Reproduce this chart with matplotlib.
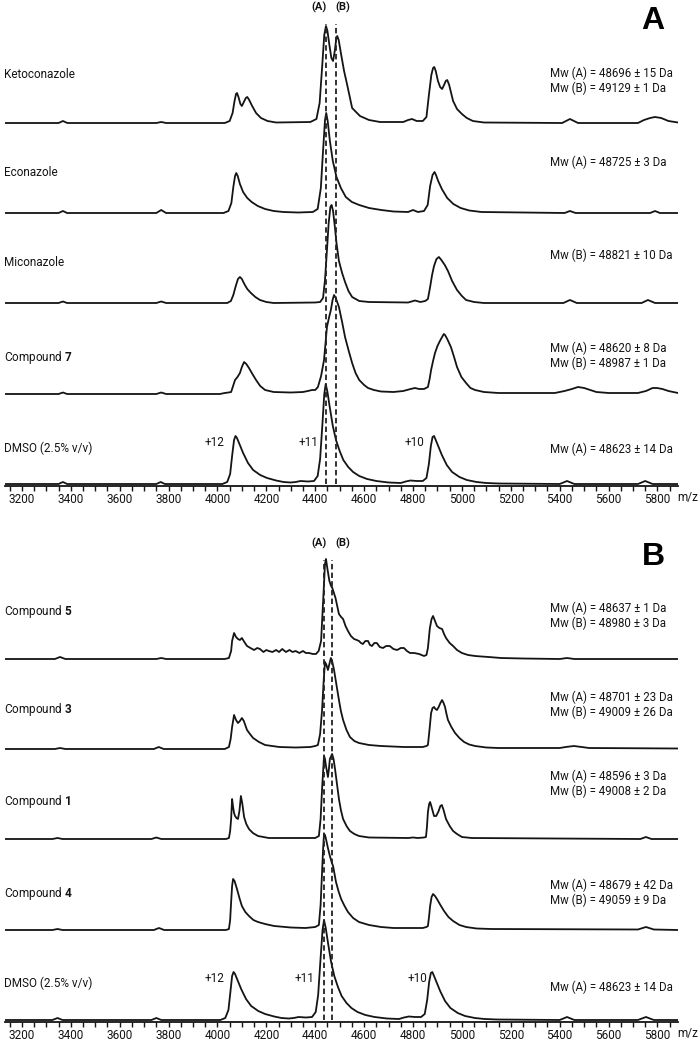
import numpy as np
import matplotlib
matplotlib.use("Agg")
import matplotlib.pyplot as plt
from matplotlib import font_manager
from matplotlib.ticker import MultipleLocator

# ---- spectra: (m/z, intensity) vertices ----
keto = [(3131, 0), (3350, 0), (3368, 2), (3386, 0), (3750, 0), (3770, 1), (3790, 0),
        (4030, 0), (4050, 2), (4062, 10), (4070, 22), (4076, 29), (4080, 30), (4086, 26), (4094, 19),
        (4100, 17), (4108, 21), (4116, 25), (4122, 26), (4130, 23), (4142, 17), (4158, 10), (4178, 5),
        (4205, 2), (4240, 0.5),
        (4380, 1), (4405, 4), (4418, 20), (4428, 55), (4437, 88), (4444, 97), (4450, 92), (4458, 78),
        (4466, 65), (4473, 62), (4480, 72), (4486, 84), (4490, 87), (4496, 83), (4505, 70), (4518, 52),
        (4530, 39), (4551, 15), (4583, 7), (4620, 3), (4665, 1),
        (4760, 1), (4780, 3), (4796, 4), (4815, 2), (4840, 2), (4855, 6), (4865, 28), (4875, 48),
        (4882, 55), (4887, 56), (4893, 52), (4902, 42), (4911, 36), (4919, 34), (4927, 38), (4934, 42),
        (4940, 43), (4948, 38), (4957, 29), (4964, 22), (4980, 14), (5000, 9), (5020, 5), (5045, 2),
        (5090, 0.5),
        (5410, 0), (5442, 4), (5475, 0), (5720, 0), (5745, 3), (5770, 5), (5790, 6), (5815, 5),
        (5845, 2), (5884, 0.5)]

econ = [(3131, 0), (3350, 0), (3368, 2), (3385, 0), (3750, 0), (3770, 3), (3790, 0),
        (4025, 0), (4045, 2), (4057, 10), (4065, 26), (4072, 37), (4077, 40), (4083, 37), (4092, 29),
        (4105, 21), (4122, 15), (4140, 11), (4165, 7), (4195, 4), (4230, 2), (4270, 1), (4330, 0.5),
        (4390, 1), (4410, 4), (4423, 25), (4432, 62), (4440, 93), (4445, 100), (4451, 92), (4460, 72),
        (4472, 52), (4487, 36), (4505, 25), (4525, 16), (4550, 11), (4580, 8), (4620, 5), (4670, 3),
        (4720, 1.5),
        (4780, 1), (4800, 3), (4820, 1), (4845, 2), (4860, 8), (4870, 27), (4880, 38), (4888, 41),
        (4894, 38), (4903, 32), (4918, 24), (4940, 15), (4965, 9), (4995, 5), (5030, 2.5), (5080, 1),
        (5420, 0), (5442, 2), (5465, 0), (5770, 0), (5790, 2), (5810, 0), (5884, 0)]

micon = [(3131, 0), (3350, 0), (3368, 1.5), (3385, 0), (3750, 0), (3770, 1.5), (3790, 0),
         (4040, 0), (4055, 2), (4065, 8), (4075, 17), (4084, 24), (4092, 26), (4100, 24), (4110, 19),
         (4122, 14), (4137, 10), (4155, 6), (4174, 3), (4200, 1), (4230, 0),
         (4400, 0.5), (4420, 1), (4432, 5), (4440, 23), (4448, 53), (4455, 80), (4462, 96), (4467, 98),
         (4473, 92), (4480, 77), (4487, 60), (4497, 42), (4510, 30), (4522, 21), (4536, 12), (4551, 6),
         (4580, 2), (4620, 1),
         (4780, 0.5), (4808, 2.5), (4830, 1), (4850, 2), (4861, 4), (4870, 16), (4878, 28), (4886, 37),
         (4896, 44), (4906, 46), (4916, 43), (4930, 38), (4943, 32), (4960, 22), (4980, 13), (5000, 7),
         (5017, 3), (5050, 1), (5090, 0),
         (5415, 0), (5442, 3), (5470, 0), (5735, 0), (5761, 3), (5790, 0), (5884, 0)]

cmpd7 = [(3131, 0), (3350, 0), (3368, 1.5), (3385, 0), (3750, 0), (3770, 1.5), (3790, 0),
         (4010, 0), (4030, 1), (4045, 1.5), (4056, 2), (4064, 8), (4072, 14), (4082, 17), (4092, 21),
         (4100, 27), (4109, 32), (4118, 30), (4129, 26), (4143, 20), (4158, 14), (4175, 8), (4195, 4),
         (4230, 2), (4300, 1.5),
         (4350, 2), (4370, 3), (4387, 4), (4400, 4), (4411, 7), (4424, 18), (4436, 34), (4448, 67),
         (4456, 76), (4464, 84), (4471, 94), (4477, 99), (4484, 96), (4497, 87), (4510, 72), (4522, 57),
         (4536, 44), (4551, 31), (4565, 21), (4580, 14), (4600, 9), (4616, 6), (4640, 4), (4669, 2.5),
         (4720, 2), (4760, 3), (4790, 5), (4808, 6), (4825, 5), (4845, 5), (4861, 7), (4868, 15),
         (4874, 24), (4882, 33), (4890, 41), (4900, 48), (4910, 53), (4919, 57), (4926, 60), (4931, 59),
         (4940, 55), (4955, 47), (4968, 37), (4980, 27), (4998, 17), (5017, 11), (5035, 6), (5054, 4),
         (5090, 2), (5150, 1),
         (5380, 1), (5420, 3), (5450, 5), (5475, 7), (5500, 6), (5525, 4), (5550, 2), (5600, 1),
         (5720, 1), (5753, 3), (5780, 6), (5798, 6), (5820, 5), (5845, 3), (5884, 1)]

dmso_a = [(3131, 0), (3350, 0), (3368, 2), (3385, 0), (3750, 0), (3768, 2), (3785, 0),
          (4020, 0), (4040, 2), (4052, 10), (4060, 28), (4068, 44), (4074, 48), (4080, 46), (4090, 40),
          (4105, 31), (4125, 21), (4146, 14), (4175, 9), (4203, 6), (4240, 3.5), (4270, 2), (4300, 1.5),
          (4320, 2), (4340, 3), (4370, 2.5), (4395, 3), (4410, 8), (4420, 25), (4430, 62), (4437, 90),
          (4443, 100), (4450, 92), (4460, 76), (4472, 58), (4485, 44), (4500, 33), (4515, 24), (4535, 17),
          (4555, 12), (4580, 8), (4612, 5), (4650, 3), (4700, 1.5),
          (4750, 1), (4770, 2.5), (4790, 3.5), (4815, 3), (4840, 3), (4855, 6), (4865, 20), (4873, 38),
          (4880, 47), (4886, 48), (4893, 44), (4903, 38), (4918, 29), (4938, 19), (4960, 12), (4990, 7),
          (5020, 4), (5060, 2), (5100, 1), (5150, 0.5),
          (5400, 0), (5430, 3), (5460, 0), (5720, 0), (5750, 3), (5780, 0), (5884, 0)]

cmpd5 = [(3131, 0), (3335, 0), (3356, 2), (3378, 0), (3750, 0), (3770, 1), (3790, 0),
         (4030, 0), (4047, 1), (4056, 8), (4060, 18), (4068, 26), (4076, 22), (4084, 20), (4092, 19),
         (4100, 21), (4110, 17), (4121, 13), (4135, 11), (4150, 9), (4163, 11), (4174, 10), (4188, 7),
         (4200, 9), (4210, 8), (4225, 7), (4240, 9), (4252, 7), (4265, 10), (4280, 7), (4295, 9),
         (4307, 7), (4320, 8), (4335, 6), (4350, 8), (4362, 6), (4375, 6), (4390, 5), (4403, 5),
         (4414, 8),
         (4424, 18), (4433, 61), (4440, 95), (4444, 100), (4450, 90), (4458, 78), (4465, 73), (4470, 71),
         (4483, 61), (4497, 45), (4506, 42), (4514, 40), (4524, 33), (4534, 28), (4546, 23), (4559, 20),
         (4570, 19), (4579, 18), (4587, 16), (4595, 15), (4605, 18), (4616, 18), (4624, 14), (4632, 13),
         (4642, 16), (4652, 16), (4664, 12), (4677, 11), (4690, 13), (4705, 13), (4720, 10), (4735, 9),
         (4750, 11), (4763, 11), (4775, 8), (4788, 6), (4805, 6), (4825, 5), (4845, 3), (4855, 4),
         (4861, 11), (4869, 31), (4876, 40), (4882, 43), (4890, 38), (4898, 33), (4908, 31), (4919, 30),
         (4927, 25), (4935, 21), (4950, 16), (4964, 13), (4980, 9), (5000, 6), (5025, 4), (5054, 3),
         (5080, 2.5), (5110, 2), (5160, 1), (5250, 0.5),
         (5400, 0), (5430, 1), (5460, 0), (5884, 0)]

cmpd3 = [(3131, 0), (3335, 0), (3356, 1), (3378, 0), (3740, 0), (3760, 2), (3780, 0),
         (4030, 0), (4047, 2), (4054, 10), (4060, 22), (4068, 34), (4076, 29), (4084, 26), (4092, 28),
         (4100, 31), (4108, 28), (4121, 19), (4133, 15), (4146, 11), (4170, 7), (4195, 4), (4253, 2),
         (4320, 1.5),
         (4380, 2), (4400, 3), (4411, 4), (4420, 15), (4428, 39), (4435, 70), (4440, 87), (4446, 84),
         (4452, 79), (4458, 85), (4464, 91), (4470, 87), (4477, 79), (4487, 64), (4497, 49), (4505, 38),
         (4514, 29), (4528, 19), (4542, 12), (4560, 8), (4579, 6), (4620, 4), (4669, 3), (4763, 2),
         (4840, 2), (4855, 3), (4861, 4), (4867, 18), (4874, 36), (4880, 41), (4886, 42), (4892, 40),
         (4898, 39), (4905, 42), (4912, 46), (4919, 49), (4925, 46), (4931, 42), (4937, 35), (4943, 29),
         (4957, 22), (4972, 16), (4990, 11), (5009, 7), (5030, 4.5), (5054, 3), (5100, 1.5), (5150, 1),
         (5400, 1), (5425, 2), (5458, 3), (5490, 2), (5520, 1), (5884, 0.5)]

cmpd1 = [(3131, 0), (3325, 0), (3346, 1), (3366, 0), (3730, 0), (3750, 1.5), (3770, 0),
         (4035, 0), (4047, 1), (4052, 8), (4056, 20), (4060, 40), (4064, 32), (4068, 26), (4072, 23),
         (4078, 21), (4084, 20), (4090, 28), (4096, 43), (4102, 35), (4109, 22), (4118, 15), (4129, 10),
         (4145, 6), (4166, 3), (4210, 1),
         (4400, 1), (4415, 3), (4422, 20), (4428, 50), (4436, 83), (4440, 80), (4444, 73), (4452, 62),
         (4456, 70), (4460, 80), (4469, 85), (4475, 80), (4481, 70), (4489, 55), (4497, 40), (4505, 29),
         (4514, 20), (4528, 13), (4542, 8), (4560, 5), (4579, 3), (4620, 1.5),
         (4780, 1), (4800, 1.5), (4820, 1), (4845, 1.5), (4853, 2), (4857, 12), (4861, 27), (4866, 35),
         (4870, 37), (4876, 32), (4886, 23), (4895, 23), (4905, 28), (4912, 33), (4918, 34), (4925, 29),
         (4935, 20), (4950, 13), (4964, 8), (4980, 5), (5000, 2), (5040, 1),
         (5730, 0), (5753, 2), (5775, 0), (5884, 0)]

cmpd4 = [(3131, 0), (3325, 0), (3346, 1), (3366, 0), (3740, 0), (3761, 2), (3782, 0),
         (4035, 0), (4047, 1), (4052, 10), (4056, 28), (4060, 44), (4064, 51), (4070, 49), (4080, 41),
         (4090, 32), (4100, 24), (4114, 18), (4129, 14), (4147, 10), (4166, 8), (4195, 6), (4232, 4),
         (4300, 2.5), (4360, 2),
         (4400, 3), (4415, 5), (4422, 25), (4428, 58), (4432, 80), (4436, 96), (4440, 95), (4444, 91),
         (4452, 82), (4460, 74), (4467, 68), (4473, 64), (4479, 56), (4485, 48), (4495, 39), (4506, 31),
         (4520, 24), (4534, 18), (4555, 12), (4579, 8), (4620, 5), (4669, 3), (4720, 2),
         (4840, 2), (4855, 3), (4861, 4), (4866, 14), (4870, 24), (4876, 33), (4882, 36), (4890, 34),
         (4898, 31), (4912, 25), (4927, 19), (4945, 13), (4964, 9), (4990, 5), (5017, 3), (5060, 1.5),
         (5120, 1),
         (5720, 0.5), (5753, 3), (5785, 0.5), (5884, 0)]

dmso_b = [(3131, 0), (3325, 0), (3346, 2), (3366, 0), (3730, 0), (3750, 2), (3770, 0),
          (4012, 0), (4032, 2), (4045, 10), (4053, 28), (4060, 44), (4066, 48), (4072, 46), (4082, 40),
          (4097, 31), (4117, 21), (4138, 14), (4167, 9), (4195, 6), (4232, 3.5), (4262, 2), (4292, 1.5),
          (4312, 2), (4332, 3), (4362, 2.5), (4387, 3), (4402, 8), (4412, 25), (4422, 62), (4430, 90),
          (4436, 100), (4443, 92), (4453, 76), (4465, 58), (4478, 44), (4493, 33), (4508, 24), (4528, 17),
          (4548, 12), (4573, 8), (4605, 5), (4643, 3), (4693, 1.5),
          (4743, 1), (4763, 2.5), (4783, 3.5), (4808, 3), (4833, 3), (4848, 6), (4858, 20), (4866, 38),
          (4873, 47), (4879, 48), (4886, 44), (4896, 38), (4911, 29), (4931, 19), (4953, 12), (4983, 7),
          (5013, 4), (5053, 2), (5093, 1), (5143, 0.5),
          (5400, 0), (5430, 3), (5460, 0), (5720, 0), (5753, 3), (5785, 0), (5884, 0)]

names_a = ["Ketoconazole", "Econazole", "Miconazole", r"Compound $\mathbf{7}$", "DMSO (2.5% v/v)"]
names_b = [r"Compound $\mathbf{5}$", r"Compound $\mathbf{3}$", r"Compound $\mathbf{1}$",
           r"Compound $\mathbf{4}$", "DMSO (2.5% v/v)"]
mw_a = [["Mw (A) = 48696 ± 15 Da", "Mw (B) = 49129 ± 1 Da"],
        ["Mw (A) = 48725 ± 3 Da"],
        ["Mw (B) = 48821 ± 10 Da"],
        ["Mw (A) = 48620 ± 8 Da", "Mw (B) = 48987 ± 1 Da"],
        ["Mw (A) = 48623 ± 14 Da"]]
mw_b = [["Mw (A) = 48637 ± 1 Da", "Mw (B) = 48980 ± 3 Da"],
        ["Mw (A) = 48701 ± 23 Da", "Mw (B) = 49009 ± 26 Da"],
        ["Mw (A) = 48596 ± 3 Da", "Mw (B) = 49008 ± 2 Da"],
        ["Mw (A) = 48679 ± 42 Da", "Mw (B) = 49059 ± 9 Da"],
        ["Mw (A) = 48623 ± 14 Da"]]
charges = ["+12", "+11", "+10"]
dash_a = [4444, 4485]   # (A) and (B) species, +11 state
dash_b = [4436, 4470]

# ---- layout (pixels of the 700 x 1046 canvas) ----
W, H = 700, 1046
offsets = [361, 271, 181, 90, 0]
name_y_a = [75, 173, 263, 357, 448]
name_y_b = [612, 710, 801, 893, 983]
mw_y_a = [73, 162, 255, 348, 449]
mw_y_b = [608, 697, 776, 885, 987]

avail = {f.name for f in font_manager.fontManager.ttflist}
FONT = next((f for f in ["Liberation Sans Narrow", "Roboto", "Open Sans"] if f in avail), "DejaVu Sans")
plt.rcParams["font.family"] = [FONT, "DejaVu Sans"]
plt.rcParams["mathtext.fontset"] = "custom"
plt.rcParams["mathtext.rm"] = FONT
plt.rcParams["mathtext.bf"] = FONT + ":bold"

INK = "#141414"


def fx(x):
    return x / W


def fy(y):
    return 1 - y / H


fig = plt.figure(figsize=(W / 100, H / 100), dpi=100)


def panel(top, traces, dashes, names, name_y, mws, mw_y, charge_x, letter):
    ax = fig.add_axes([fx(5), fy(top + 486), fx(673), 486 / H])
    for pts, off in zip(traces, offsets):
        arr = np.array(pts, dtype=float)
        ax.plot(arr[:, 0], arr[:, 1] + off, color=INK, lw=1.3, solid_joinstyle="round")
    ax.vlines(dashes, 0, 460, colors="#222222", linestyles=(0, (3.0, 1.8)), lw=1.3, zorder=3)
    ax.set_xlim(3131, 5884)
    ax.set_ylim(-2, 484)
    for s in ["left", "right", "top"]:
        ax.spines[s].set_visible(False)
    ax.spines["bottom"].set_linewidth(1.3)
    ax.spines["bottom"].set_color(INK)
    ax.set_yticks([])
    ax.xaxis.set_major_locator(MultipleLocator(200))
    ax.xaxis.set_minor_locator(MultipleLocator(50))
    ax.tick_params(axis="x", which="both", direction="out", length=3.5, width=1.0,
                   labelsize=8.5, pad=1.5, colors=INK)
    fig.text(fx(688), fy(top + 497), "m/z", fontsize=8.5, ha="center", va="center", color=INK)

    for nm, y in zip(names, name_y):
        fig.text(fx(4), fy(y), nm, fontsize=8.5, ha="left", va="center", color=INK)
    for lines, y in zip(mws, mw_y):
        for k, ln in enumerate(lines):
            fig.text(fx(550), fy(y + 15 * k), ln, fontsize=8.3, ha="left", va="center", color=INK)
    for lab, x in zip(charges, charge_x):
        fig.text(fx(x), fy(name_y[-1] - 5), lab, fontsize=8.5, ha="center", va="center", color=INK)
    fig.text(fx(319), fy(top + 7), "(A)", fontsize=8, fontweight="bold", ha="center", va="center", color=INK)
    fig.text(fx(343), fy(top + 7), "(B)", fontsize=8, fontweight="bold", ha="center", va="center", color=INK)
    fig.text(fx(653), fy(top + 21), letter, fontsize=23, fontweight="bold", ha="center", va="center",
             family=["Liberation Sans", "DejaVu Sans"], color="black")
    return ax


panel(0, [keto, econ, micon, cmpd7, dmso_a], dash_a, names_a, name_y_a, mw_a, mw_y_a,
      [215, 309, 414], "A")
panel(536, [cmpd5, cmpd3, cmpd1, cmpd4, dmso_b], dash_b, names_b, name_y_b, mw_b, mw_y_b,
      [215, 305, 417], "B")

fig.savefig("out.png", dpi=100)
